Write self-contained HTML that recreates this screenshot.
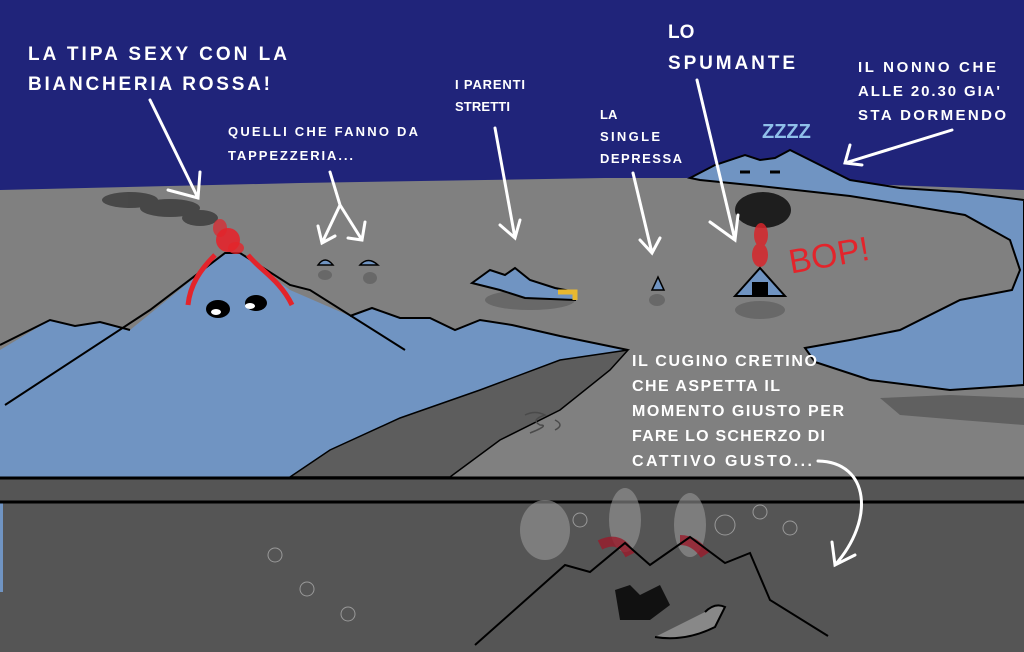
<!DOCTYPE html>
<html><head><meta charset="utf-8"><style>
html,body{margin:0;padding:0;background:#20247a;}
svg{display:block}
text{font-family:"Liberation Sans",sans-serif;font-weight:bold;fill:#fff;}
</style></head><body>
<svg width="1024" height="652" viewBox="0 0 1024 652" xmlns="http://www.w3.org/2000/svg">
<rect width="1024" height="652" fill="#20247a"/>
<polygon points="0,190 300,183 605,178 700,178 1024,190 1024,480 0,480" fill="#808080"/>
<path d="M690,178 L715,165 L745,155 L760,160 L775,158 L790,150 L810,160 L850,180 L900,188 L960,192 L1024,200 L1024,385 L950,390 L870,380 L815,362 L805,348 L850,340 L900,330 L960,300 L1012,290 L1020,270 L1010,240 L965,215 L900,204 L850,196 L760,186 L700,180 Z" fill="#7094c2" stroke="#000" stroke-width="2"/>
<path d="M880,398 L950,395 L1024,398 L1024,425 L960,420 L900,415 Z" fill="#606060"/>
<path d="M0,350 L50,320 L75,326 L100,322 L130,330 L225,253 L240,253 L290,290 L350,316 L372,308 L400,318 L430,318 L455,330 L480,320 L512,325 L560,336 L600,344 L628,350 L560,360 L480,390 L400,418 L330,450 L290,477 L0,477 Z" fill="#7094c2"/>
<path d="M628,350 L560,360 L480,390 L400,418 L330,450 L290,477 L450,477 L500,440 L560,410 L610,370 Z" fill="#5d5d5d" stroke="#000" stroke-width="1.5"/>
<polyline points="0,345 50,320 75,326 100,322 130,330" fill="none" stroke="#000" stroke-width="2"/>
<polyline points="5,405 150,310 225,253 240,253 290,285 310,290 405,350" fill="none" stroke="#000" stroke-width="2"/>
<polyline points="350,316 372,308 400,318 430,318 455,330 480,320 512,325 560,336 628,350" fill="none" stroke="#000" stroke-width="2"/>
<g fill="#1a1a1a" opacity="0.55">
<ellipse cx="130" cy="200" rx="28" ry="8"/><ellipse cx="170" cy="208" rx="30" ry="9"/><ellipse cx="200" cy="218" rx="18" ry="8"/>
</g>
<g fill="#e3242b">
<ellipse cx="228" cy="240" rx="12" ry="12" opacity="0.9"/><ellipse cx="220" cy="228" rx="7" ry="9" opacity="0.7"/><ellipse cx="236" cy="248" rx="8" ry="6" opacity="0.8"/>
</g>
<path d="M215,255 C200,270 190,285 188,305" stroke="#e3242b" stroke-width="5" fill="none"/>
<path d="M248,255 C260,270 280,280 292,305" stroke="#e3242b" stroke-width="5" fill="none"/>
<ellipse cx="218" cy="309" rx="12" ry="9" fill="#000"/><ellipse cx="256" cy="303" rx="11" ry="8" fill="#000"/>
<ellipse cx="216" cy="312" rx="5" ry="3" fill="#fff"/><ellipse cx="250" cy="306" rx="5" ry="3" fill="#fff"/>
<path d="M318,265 Q325,255 333,265 Z M360,265 Q368,256 378,265 Z" fill="#7094c2" stroke="#000" stroke-width="1.5"/>
<ellipse cx="325" cy="275" rx="7" ry="5" fill="#686868"/><ellipse cx="370" cy="278" rx="7" ry="6" fill="#686868"/>
<ellipse cx="530" cy="300" rx="45" ry="10" fill="#686868"/>
<path d="M472,283 L490,270 L505,275 L515,268 L530,280 L555,288 L575,292 L575,300 L525,298 L500,290 Z" fill="#7094c2" stroke="#000" stroke-width="2"/>
<path d="M558,292 L575,292 L575,300" stroke="#e8b830" stroke-width="5" fill="none"/>
<polygon points="652,290 658,277 664,290" fill="#7094c2" stroke="#000" stroke-width="1.5"/>
<ellipse cx="657" cy="300" rx="8" ry="6" fill="#686868"/>
<ellipse cx="763" cy="210" rx="28" ry="18" fill="#1e1e1e"/>
<g fill="#d8262b" opacity="0.85"><ellipse cx="761" cy="235" rx="7" ry="12"/><ellipse cx="760" cy="255" rx="8" ry="12"/></g>
<polygon points="735,296 760,268 785,296" fill="#7094c2" stroke="#000" stroke-width="2"/>
<rect x="752" y="282" width="16" height="14" fill="#000"/>
<ellipse cx="760" cy="310" rx="25" ry="9" fill="#686868"/>
<text x="788" y="270" font-size="34" style="fill:#e3242b;font-weight:normal" transform="rotate(-10 810 255)">BOP!</text>
<path d="M740,172 h10 M770,172 h10" stroke="#000" stroke-width="3"/>
<text x="762" y="138" font-size="20" style="fill:#8fc0ea">ZZZZ</text>
<path d="M525,415 q10,-5 20,0 q-15,5 -5,10 q10,0 -10,8 M555,420 q10,5 0,10" stroke="#4a4a4a" fill="none" stroke-width="1.5"/>
<rect x="0" y="477" width="1024" height="175" fill="#555"/>
<rect x="0" y="502" width="3" height="90" fill="#7094c2"/>
<line x1="0" y1="478" x2="1024" y2="478" stroke="#000" stroke-width="3"/>
<line x1="0" y1="502" x2="1024" y2="502" stroke="#000" stroke-width="3"/>
<g fill="#999" opacity="0.6">
<ellipse cx="545" cy="530" rx="25" ry="30"/><ellipse cx="625" cy="520" rx="16" ry="32"/><ellipse cx="690" cy="525" rx="16" ry="32"/>
</g>
<path d="M600,545 q20,-10 30,10 M680,540 q15,0 25,15" stroke="#9a1a2a" stroke-width="10" fill="none" opacity="0.8"/>
<path d="M475,645 L565,565 L590,572 L625,543 L650,565 L690,537 L725,563 L750,553 L770,600 L828,636" fill="none" stroke="#000" stroke-width="2"/>
<path d="M615,590 L630,585 L640,595 L660,585 L670,605 L650,620 L620,620 Z" fill="#111"/>
<path d="M655,637 q30,5 60,-10 l10,-20 q-10,-5 -20,5" stroke="#000" fill="#888" stroke-width="2"/>
<g fill="none" stroke="#999" stroke-width="1"><circle cx="275" cy="555" r="7"/><circle cx="307" cy="589" r="7"/><circle cx="348" cy="614" r="7"/><circle cx="760" cy="512" r="7"/><circle cx="790" cy="528" r="7"/><circle cx="580" cy="520" r="7"/><circle cx="725" cy="525" r="10"/></g>
<g stroke="#fff" stroke-width="3" fill="none" stroke-linecap="round">
<path d="M150,100 L198,198 M168,190 L198,198 L200,172"/>
<path d="M330,172 L340,205 L322,243 M318,226 L322,243 L335,236 M340,205 L362,240 M348,238 L362,240 L365,222"/>
<path d="M495,128 L515,238 M500,225 L515,238 L520,220"/>
<path d="M633,173 L652,253 M640,240 L652,253 L660,238"/>
<path d="M697,80 L735,240 M710,222 L735,240 L738,215"/>
<path d="M952,130 L845,163 M850,145 L845,163 L862,165"/>
<path d="M818,461 C870,462 875,520 835,565 M832,542 L835,565 L855,555"/>
</g>
<text x="28" y="60" font-size="19" textLength="259">LA TIPA SEXY CON LA</text>
<text x="28" y="90" font-size="19" textLength="242">BIANCHERIA ROSSA!</text>
<text x="228" y="136" font-size="13" textLength="190">QUELLI CHE FANNO DA</text>
<text x="228" y="160" font-size="13" textLength="125">TAPPEZZERIA...</text>
<text x="455" y="89" font-size="13" textLength="70">I PARENTI</text>
<text x="455" y="111" font-size="13" textLength="55">STRETTI</text>
<text x="600" y="119" font-size="13">LA</text>
<text x="600" y="141" font-size="13" textLength="60">SINGLE</text>
<text x="600" y="163" font-size="13" textLength="82">DEPRESSA</text>
<text x="668" y="38" font-size="19">LO</text>
<text x="668" y="69" font-size="19" textLength="127">SPUMANTE</text>
<text x="858" y="72" font-size="15" textLength="138">IL NONNO CHE</text>
<text x="858" y="96" font-size="15" textLength="142">ALLE 20.30 GIA'</text>
<text x="858" y="120" font-size="15" textLength="148">STA DORMENDO</text>
<text x="632" y="366" font-size="16" textLength="185">IL CUGINO CRETINO</text>
<text x="632" y="391" font-size="16" textLength="148">CHE ASPETTA IL</text>
<text x="632" y="416" font-size="16" textLength="212">MOMENTO GIUSTO PER</text>
<text x="632" y="441" font-size="16" textLength="193">FARE LO SCHERZO DI</text>
<text x="632" y="466" font-size="16" textLength="180">CATTIVO GUSTO...</text>
</svg>
</body></html>
